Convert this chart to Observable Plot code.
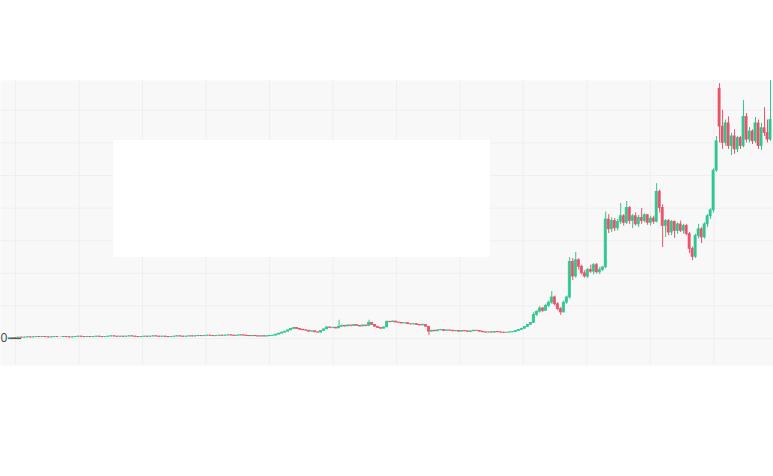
<!DOCTYPE html>
<html>
<head>
<meta charset="utf-8">
<script src="https://cdn.jsdelivr.net/npm/d3@7"></script>
<script src="https://cdn.jsdelivr.net/npm/@observablehq/plot@0.6"></script>
<style>
  html, body { margin: 0; padding: 0; background: #ffffff; }
  #chart { width: 773px; height: 476px; overflow: hidden; }
  svg { display: block; }
</style>
</head>
<body>
<div id="chart"></div>
<script>
// Candle OHLC values (grid step = 10 units), one entry per candle, left to right
const open = [
  0.0,0.1,0.2,0.1,0.3,0.2,0.3,0.4,0.3,0.4,
  0.5,0.4,0.5,0.4,0.3,0.4,0.5,0.4,0.4,0.5,
  0.4,0.3,0.4,0.5,0.6,0.5,0.4,0.5,0.4,0.5,
  0.6,0.5,0.4,0.5,0.6,0.7,0.6,0.5,0.6,0.5,
  0.6,0.7,0.6,0.5,0.4,0.5,0.6,0.5,0.6,0.7,
  0.6,0.5,0.6,0.5,0.4,0.5,0.6,0.7,0.6,0.5,
  0.6,0.7,0.6,0.7,0.8,0.7,0.8,0.9,0.8,0.7,
  0.8,0.9,0.8,0.9,1.0,0.9,0.8,0.9,1.0,0.9,
  0.8,0.7,0.8,0.7,0.6,0.7,0.6,0.7,0.8,0.9,
  1.2,1.5,1.8,2.1,2.5,2.9,3.2,2.9,2.7,2.5,
  2.4,2.1,2.2,1.9,1.8,2.3,2.8,3.4,3.2,3.3,
  3.1,3.6,3.9,3.7,4.0,3.8,4.1,3.9,3.7,4.0,
  3.8,4.8,4.2,3.6,3.2,3.0,3.4,5.1,5.0,5.2,
  4.9,4.8,4.6,4.7,4.4,4.3,4.4,4.1,4.0,4.2,
  3.6,2.1,2.4,2.2,2.5,2.6,2.3,2.5,2.4,2.2,
  2.3,2.1,2.3,2.2,2.0,2.2,2.4,2.3,2.1,1.9,
  1.8,1.9,1.8,2.0,1.9,1.8,1.7,1.8,1.9,2.0,
  2.3,2.6,3.0,3.5,4.2,4.8,7.2,8.2,9.2,8.5,
  10.0,11.0,12.6,10.5,9.0,8.0,11.0,12.6,23.5,19.0,
  24.0,22.0,20.0,19.0,21.0,20.5,22.5,20.3,21.0,21.8,
  36.5,33.5,36.0,33.8,35.8,37.5,35.5,40.0,36.0,37.5,
  35.0,37.0,36.0,37.8,35.5,36.8,35.8,45.0,40.0,34.5,
  36.0,32.5,35.8,33.0,35.0,33.0,34.5,32.0,27.5,25.0,
  31.5,33.5,31.0,35.0,37.5,39.3,51.5,76.5,65.0,60.0,
  66.0,59.0,62.0,58.0,61.5,59.0,68.0,61.0,63.5,60.5,
  66.0,59.0,64.5,63.0,61.0
];
const high = [
  0.2,0.2,0.3,0.3,0.4,0.4,0.5,0.5,0.5,0.6,
  0.6,0.6,0.6,0.5,0.5,0.6,0.6,0.5,0.6,0.6,
  0.5,0.5,0.6,0.7,0.7,0.6,0.6,0.6,0.6,0.7,
  0.7,0.6,0.6,0.7,0.8,0.8,0.7,0.7,0.7,0.7,
  0.8,0.8,0.7,0.6,0.6,0.7,0.7,0.7,0.8,0.8,
  0.7,0.7,0.7,0.6,0.6,0.7,0.8,0.8,0.7,0.7,
  0.8,0.8,0.8,0.9,0.9,0.9,1.0,1.0,0.9,0.9,
  1.0,1.0,1.0,1.1,1.1,1.0,1.0,1.1,1.1,1.0,
  0.9,0.9,0.9,0.8,0.8,0.8,0.8,0.9,1.0,1.3,
  1.6,1.9,2.2,2.6,3.0,3.4,3.3,3.0,2.8,2.7,
  2.5,2.4,2.3,2.0,2.4,2.9,3.6,3.5,3.5,3.4,
  5.6,4.1,4.0,4.2,4.1,4.3,4.2,4.0,4.2,4.1,
  5.6,4.9,4.3,3.7,3.3,3.5,5.4,5.3,5.4,5.3,
  5.0,4.9,4.9,4.8,4.5,4.6,4.5,4.2,4.4,4.3,
  3.7,2.5,2.5,2.6,2.8,2.7,2.6,2.6,2.5,2.4,
  2.4,2.4,2.4,2.3,2.3,2.5,2.5,2.4,2.2,2.0,
  2.0,2.0,2.1,2.1,2.0,1.9,1.9,2.0,2.1,2.4,
  2.7,3.1,3.6,4.3,4.9,8.0,8.5,9.8,9.5,10.5,
  11.5,14.4,13.0,11.0,9.5,11.5,13.0,24.8,24.5,26.4,
  24.5,22.5,20.8,21.5,22.5,23.0,23.0,21.8,22.0,38.8,
  38.0,37.0,36.8,36.5,41.4,38.0,42.0,40.5,38.0,38.5,
  37.8,39.9,38.3,38.0,37.5,37.5,47.5,45.5,41.0,36.5,
  36.5,36.2,36.0,35.5,36.0,35.0,35.0,32.5,28.0,32.0,
  35.0,34.0,35.5,38.0,39.8,52.0,62.0,78.2,70.0,67.0,
  68.0,63.0,64.0,62.0,62.0,73.0,69.0,64.7,64.0,67.8,
  67.0,66.0,70.8,67.0,79.1
];
const low = [
  0.0,0.0,0.1,0.0,0.2,0.1,0.2,0.2,0.2,0.3,
  0.3,0.3,0.3,0.2,0.2,0.3,0.3,0.3,0.3,0.3,
  0.2,0.2,0.3,0.4,0.4,0.3,0.3,0.3,0.3,0.4,
  0.4,0.3,0.3,0.4,0.5,0.5,0.4,0.4,0.4,0.4,
  0.5,0.5,0.4,0.3,0.3,0.4,0.4,0.4,0.5,0.5,
  0.4,0.4,0.4,0.3,0.3,0.4,0.5,0.5,0.4,0.4,
  0.5,0.5,0.5,0.6,0.6,0.6,0.7,0.7,0.6,0.6,
  0.7,0.7,0.7,0.8,0.8,0.7,0.7,0.8,0.8,0.7,
  0.6,0.6,0.6,0.5,0.5,0.5,0.5,0.6,0.7,0.8,
  1.1,1.4,1.7,2.0,2.4,2.8,2.8,2.6,2.4,2.3,
  2.0,2.0,1.8,1.7,1.7,2.2,2.7,3.0,3.0,2.9,
  3.0,3.5,3.5,3.6,3.6,3.7,3.7,3.5,3.6,3.6,
  3.7,4.0,3.5,3.1,2.9,2.9,3.3,4.8,4.9,4.8,
  4.6,4.5,4.5,4.3,4.2,4.2,4.0,3.9,3.9,3.5,
  0.9,2.0,2.1,2.1,2.4,2.2,2.2,2.3,2.1,2.1,
  2.0,2.0,2.1,1.9,1.9,2.1,2.2,2.0,1.8,1.7,
  1.7,1.7,1.7,1.8,1.7,1.6,1.6,1.7,1.8,1.9,
  2.2,2.5,2.9,3.4,4.1,4.6,6.8,7.8,8.0,8.3,
  9.5,10.5,10.0,8.5,7.1,7.8,10.5,12.0,17.8,18.5,
  21.0,19.5,18.5,18.4,20.0,19.5,19.8,19.6,20.5,21.5,
  32.2,32.5,32.8,33.0,35.0,34.5,35.0,35.0,33.7,34.5,
  34.0,35.0,35.5,34.7,34.5,35.0,35.5,38.5,27.9,31.0,
  31.5,31.5,30.7,32.0,32.5,32.0,31.5,26.0,23.9,24.5,
  30.5,29.1,30.5,34.0,36.5,38.5,51.0,60.0,58.0,59.0,
  58.0,56.1,56.5,57.0,58.0,58.5,60.0,60.0,59.5,59.8,
  58.0,57.7,62.0,60.0,60.5
];
const close = [
  0.1,0.2,0.1,0.3,0.2,0.3,0.4,0.3,0.4,0.5,
  0.4,0.5,0.4,0.3,0.4,0.5,0.4,0.4,0.5,0.4,
  0.3,0.4,0.5,0.6,0.5,0.4,0.5,0.4,0.5,0.6,
  0.5,0.4,0.5,0.6,0.7,0.6,0.5,0.6,0.5,0.6,
  0.7,0.6,0.5,0.4,0.5,0.6,0.5,0.6,0.7,0.6,
  0.5,0.6,0.5,0.4,0.5,0.6,0.7,0.6,0.5,0.6,
  0.7,0.6,0.7,0.8,0.7,0.8,0.9,0.8,0.7,0.8,
  0.9,0.8,0.9,1.0,0.9,0.8,0.9,1.0,0.9,0.8,
  0.7,0.8,0.7,0.6,0.7,0.6,0.7,0.8,0.9,1.2,
  1.5,1.8,2.1,2.5,2.9,3.2,2.9,2.7,2.5,2.4,
  2.1,2.2,1.9,1.8,2.3,2.8,3.4,3.2,3.3,3.1,
  3.6,3.9,3.7,4.0,3.8,4.1,3.9,3.7,4.0,3.8,
  4.8,4.2,3.6,3.2,3.0,3.4,5.1,5.0,5.2,4.9,
  4.8,4.6,4.7,4.4,4.3,4.4,4.1,4.0,4.2,3.6,
  2.1,2.4,2.2,2.5,2.6,2.3,2.5,2.4,2.2,2.3,
  2.1,2.3,2.2,2.0,2.2,2.4,2.3,2.1,1.9,1.8,
  1.9,1.8,2.0,1.9,1.8,1.7,1.8,1.9,2.0,2.3,
  2.6,3.0,3.5,4.2,4.8,7.2,8.2,9.2,8.5,10.0,
  11.0,12.6,10.5,9.0,8.0,11.0,12.6,23.5,19.0,24.0,
  22.0,20.0,19.0,21.0,20.5,22.5,20.3,21.0,21.8,36.5,
  33.5,36.0,33.8,35.8,37.5,35.5,40.0,36.0,37.5,35.0,
  37.0,36.0,37.8,35.5,36.8,35.8,45.0,40.0,34.5,36.0,
  32.5,35.8,33.0,35.0,33.0,34.5,32.0,27.5,25.0,31.5,
  33.5,31.0,35.0,37.5,39.3,51.5,60.5,65.0,60.0,66.0,
  59.0,62.0,58.0,61.5,59.0,68.0,61.0,63.5,60.5,66.0,
  59.0,64.5,63.0,61.0,67.0
];

// Axis / grid values
const yGrid = [0, 10, 20, 30, 40, 50, 60, 70];
const yLabels = [0];
const xGrid = [2, 23.2, 44.4, 65.6, 86.8, 108, 129.2, 150.3, 171.5, 192.7, 213.9, 235.1];
// Blank (white) panel area in data units
const blankBox = [{x1: 34.7, x2: 160.5, y1: 24.85, y2: 60.75}];

const UP = "#2fc68f";
const DOWN = "#ea5268";

const candles = close.map((c, i) => ({
  i, o: open[i], h: high[i], l: low[i], c,
  color: c >= open[i] ? UP : DOWN
}));

const chart = Plot.plot({
  width: 773,
  height: 476,
  marginTop: 80,
  marginBottom: 111,
  marginLeft: 0,
  marginRight: 0,
  x: {domain: [-3, 255], axis: null},
  y: {domain: [-8.28, 79.14], axis: null},
  style: {background: "#ffffff", fontFamily: "'Open Sans', sans-serif"},
  marks: [
    Plot.frame({fill: "#f8f8f8", stroke: null}),
    Plot.ruleY(yGrid, {stroke: "#efefef", strokeWidth: 1}),
    Plot.ruleX(xGrid, {stroke: "#efefef", strokeWidth: 1}),
    Plot.rect(blankBox, {x1: "x1", x2: "x2", y1: "y1", y2: "y2", fill: "#ffffff"}),
    Plot.ruleY(yLabels, {x1: -0.3, x2: 4, stroke: "#555555", strokeWidth: 1.2}),
    Plot.text(yLabels, {x: -3, y: d => d, text: d => String(d), textAnchor: "start", dx: 0, fill: "#444444", fontSize: 12}),
    Plot.ruleX(candles, {x: "i", y1: "l", y2: "h", stroke: "color", strokeWidth: 1}),
    Plot.rect(candles, {
      x1: d => d.i - 0.35, x2: d => d.i + 0.35,
      y1: "o", y2: "c",
      fill: "color", stroke: "color", strokeWidth: 0.7
    })
  ]
});
document.getElementById("chart").appendChild(chart);
</script>
</body>
</html>
